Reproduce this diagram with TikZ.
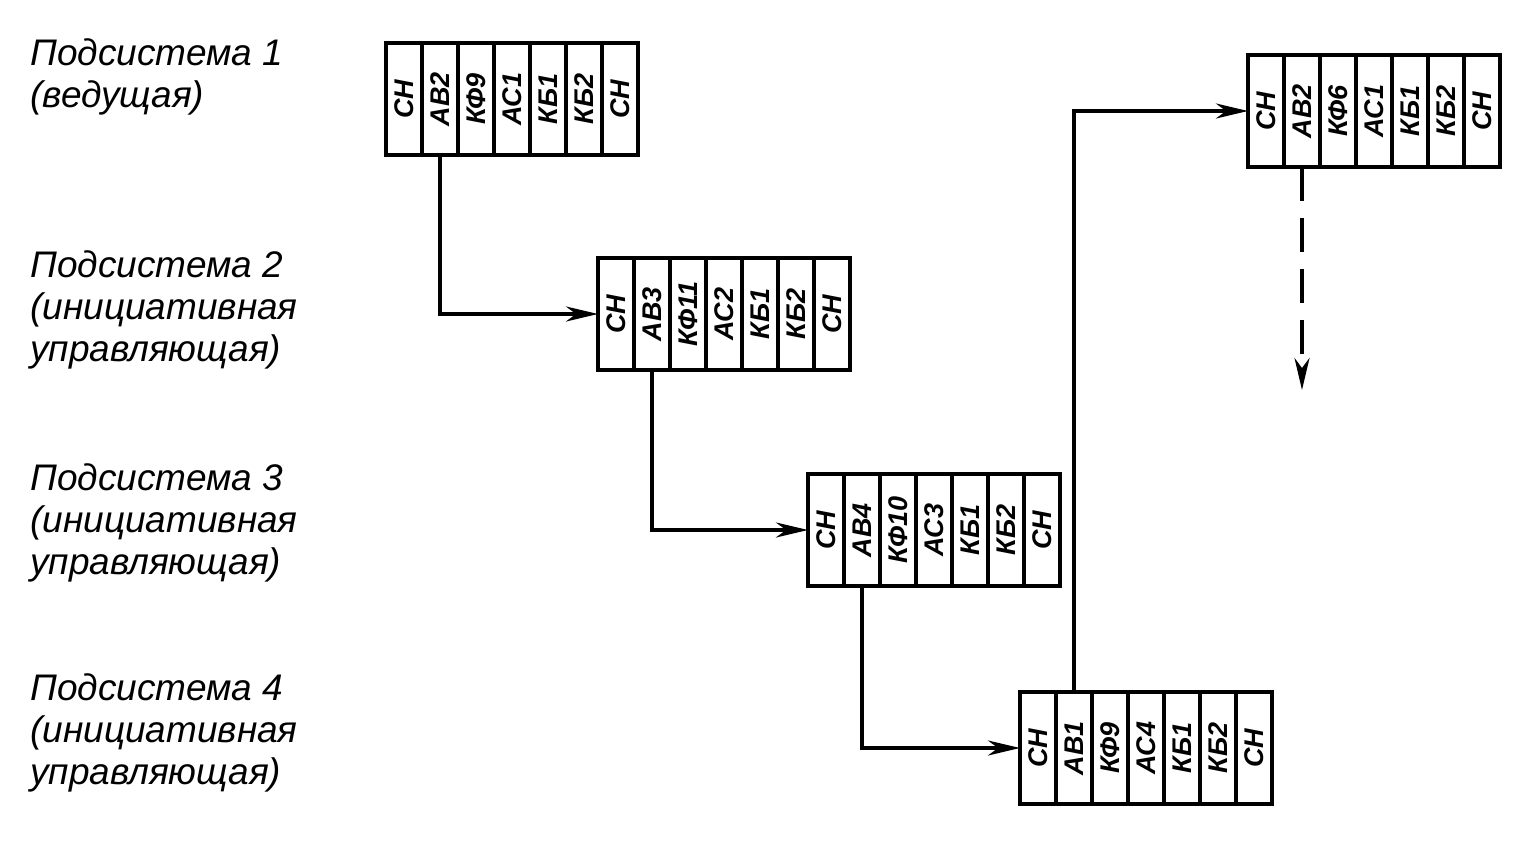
\documentclass[tikz,border=0pt]{standalone}
\usepackage{fontspec}
\setmainfont{Liberation Sans}
\usepackage{graphicx}
\usetikzlibrary{arrows.meta}

% one subsystem frame: name, left, top, cell texts
\newcommand{\blockrow}[4]{%
  \foreach \txt [count=\i] in {#4} {
    \node[cell,anchor=north west] (#1-\i) at ({#2+(\i-1)*36},#3) {\rotatebox{90}{\txt}};
  }}

\begin{document}
\begin{tikzpicture}[x=1pt,y=-1pt,
  cell/.style={draw,line width=4pt,outer sep=0pt,inner sep=0pt,minimum width=36pt,
               minimum height=112pt,font=\fontsize{27}{27}\selectfont\bfseries\itshape},
  conn/.style={line width=3.4pt,-{Stealth[length=32pt,width=15pt,inset=10pt]}},
  lab/.style={anchor=north west,align=left,inner sep=0pt,
              font=\fontsize{37}{42}\selectfont\itshape}]
\useasboundingbox (0,0) rectangle (1524,841);

\node[lab] (lab1) at (30,38) {Подсистема 1\\(ведущая)};
\node[lab] (lab2) at (30,250) {Подсистема 2\\(инициативная\\управляющая)};
\node[lab] (lab3) at (30,463) {Подсистема 3\\(инициативная\\управляющая)};
\node[lab] (lab4) at (30,673) {Подсистема 4\\(инициативная\\управляющая)};

\blockrow{b1}{386}{43}{СН,АВ2,КФ9,АС1,КБ1,КБ2,СН}
\blockrow{b2}{598}{258}{СН,АВ3,КФ11,АС2,КБ1,КБ2,СН}
\blockrow{b3}{808}{474}{СН,АВ4,КФ10,АС3,КБ1,КБ2,СН}
\blockrow{b4}{1020}{692}{СН,АВ1,КФ9,АС4,КБ1,КБ2,СН}
\blockrow{b5}{1248}{55}{СН,АВ2,КФ6,АС1,КБ1,КБ2,СН}

\draw[conn] (b1-2.south) |- (b2-1.west);
\draw[conn] (b2-2.south) |- (b3-1.west);
\draw[conn] (b3-2.south) |- (b4-1.west);
\draw[conn] (b4-2.north) |- (b5-1.west);
\coordinate (tail) at (1302,390);
\draw[conn,dash pattern=on 34pt off 17pt] (b5-2.south) -- (b5-2.south |- tail);
\end{tikzpicture}
\end{document}
